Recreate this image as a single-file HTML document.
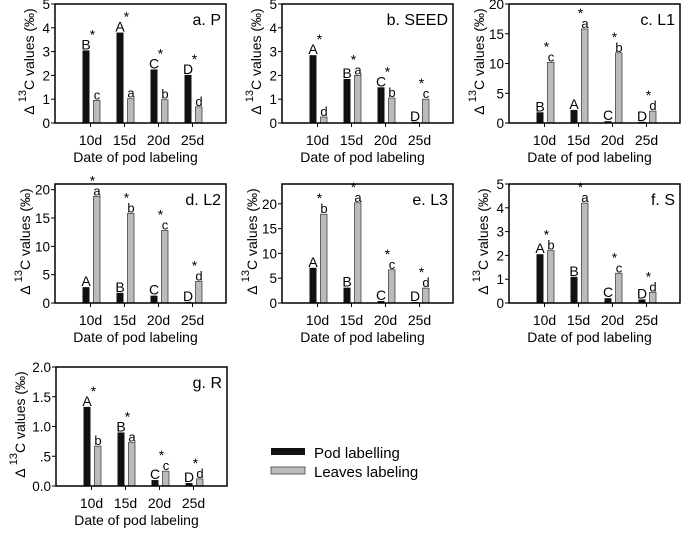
<!DOCTYPE html>
<html><head><meta charset="utf-8"><style>
body{margin:0;background:#fff;width:685px;height:530px;overflow:hidden}
svg{font-family:"Liberation Sans",sans-serif}
</style></head><body>
<svg id="fig" width="685" height="530"></svg>
<script>
const categories=["10d","15d","20d","25d"];
const podA=[3.05,3.8,2.25,2.02], leafA=[0.95,1.02,0.98,0.68];
const podB=[2.85,1.85,1.5,0.05], leafB=[0.25,2.0,1.05,1.0];
const podC=[1.8,2.2,0.3,0.2], leafC=[10.2,15.8,11.8,2.0];
const podD=[2.8,1.8,1.3,0.2], leafD=[18.8,15.8,12.8,3.8];
const podE=[7.1,3.1,0.4,0.2], leafE=[17.9,20.2,6.7,3.0];
const podF=[2.05,1.1,0.2,0.15], leafF=[2.2,4.2,1.25,0.45];
const podG=[1.33,0.9,0.1,0.05], leafG=[0.67,0.73,0.25,0.12];
const ticks05=["0","1","2","3","4","5"];
const ticks020=["0","5","10","15","20"];
const ticksG=["0.0",".5","1.0","1.5","2.0"];
const panels=[
 {id:"a",title:"a. P",x:55,y:4,max:5,tv:[0,1,2,3,4,5],tl:ticks05,pod:podA,leaf:leafA,pl:["B","A","C","D"],ll:["c","a","b","d"],yo:21},
 {id:"b",title:"b. SEED",x:282,y:4,max:5,tv:[0,1,2,3,4,5],tl:ticks05,pod:podB,leaf:leafB,pl:["A","B","C","D"],ll:["d","a","b","c"],yo:21},
 {id:"c",title:"c. L1",x:509,y:4,max:20,tv:[0,5,10,15,20],tl:ticks020,pod:podC,leaf:leafC,pl:["B","A","C","D"],ll:["c","a","b","d"],yo:25},
 {id:"d",title:"d. L2",x:55,y:184,max:21,tv:[0,5,10,15,20],tl:ticks020,pod:podD,leaf:leafD,pl:["A","B","C","D"],ll:["a","b","c","d"],yo:25},
 {id:"e",title:"e. L3",x:282,y:184,max:24,tv:[0,5,10,15,20],tl:ticks020,pod:podE,leaf:leafE,pl:["A","B","C","D"],ll:["b","a","c","d"],yo:25},
 {id:"f",title:"f. S",x:509,y:184,max:5,tv:[0,1,2,3,4,5],tl:ticks05,pod:podF,leaf:leafF,pl:["A","B","C","D"],ll:["b","a","c","d"],yo:21},
 {id:"g",title:"g. R",x:56,y:367,max:2,tv:[0,0.5,1,1.5,2],tl:ticksG,pod:podG,leaf:leafG,pl:["A","B","C","D"],ll:["b","a","c","d"],yo:31}
];
const NS="http://www.w3.org/2000/svg", svg=document.getElementById("fig");
function mk(t,a,p,txt){const e=document.createElementNS(NS,t);for(const k in a)e.setAttribute(k,a[k]);if(txt!==undefined)e.textContent=txt;(p||svg).appendChild(e);return e;}
const W=171,H=119;
panels.forEach(P=>{
 const g=mk("g",{});
 
 
 const ys=v=>P.y+H-v/P.max*H, xs=i=>P.x+35.5+34*i;
 P.tv.forEach((v,i)=>{
  const l=mk("line",{x1:P.x-4,x2:P.x,y1:ys(v),y2:ys(v),stroke:"#000"},g);
  
  
  const t=mk("text",{x:P.x-5,y:ys(v)+5,"text-anchor":"end","font-size":"13.5"},g,P.tl[i]);
  
  
 });
 categories.forEach((c,i)=>{
  const cx=xs(i);
  const hp=P.pod[i]/P.max*H, hl=P.leaf[i]/P.max*H;
  const b1=mk("rect",{x:cx-8,y:P.y+H-hp,width:7,height:hp,fill:"#111"},g);
  
  
  const b2=mk("rect",{x:cx+3,y:P.y+H-hl,width:6.5,height:hl,fill:"#bbb",stroke:"#444","stroke-width":"0.8"},g);
  
  
  const t1=mk("text",{x:cx-4.5,y:P.y+H-hp-1,"text-anchor":"middle","font-size":"14"},g,P.pl[i]);
  
  
  const t2=mk("text",{x:cx+6.5,y:P.y+H-hl-1,"text-anchor":"middle","font-size":"13"},g,P.ll[i]);
  
  
  const top=Math.max(hp,hl);
  const s=mk("text",{x:cx+2,y:P.y+H-top-11,"text-anchor":"middle","font-size":"14"},g,"*");
  
  
  const tk=mk("line",{x1:cx,x2:cx,y1:P.y+H,y2:P.y+H+4,stroke:"#000"},g);
  
  
  const xl=mk("text",{x:cx,y:P.y+H+22,"text-anchor":"middle","font-size":"14"},g,c);
  
  
 });
 const fr=mk("rect",{x:P.x,y:P.y,width:W,height:H,fill:"none",stroke:"#000","stroke-width":"1.5"},g);
 
 
 const ti=mk("text",{x:P.x+W-5,y:P.y+21,"text-anchor":"end","font-size":"16"},g,P.title);
 
 
 const xt=mk("text",{x:P.x+W/2-5,y:P.y+H+39,"text-anchor":"middle","font-size":"14"},g,"Date of pod labeling");
 
 
 const yt=mk("text",{transform:`translate(${P.x-P.yo},${P.y+H/2-2}) rotate(-90)`,"text-anchor":"middle","font-size":"14"},g);
 
 
 mk("tspan",{},yt,"Δ ");
 mk("tspan",{dy:"-8","font-size":"11"},yt,"13");
 mk("tspan",{dy:"8"},yt,"C values (‰)");
});
const lg=mk("g",{});


const r1=mk("rect",{x:271,y:448,width:34,height:7,fill:"#111"},lg);


const l1=mk("text",{x:314,y:458,"font-size":"15"},lg,"Pod labelling");


const r2=mk("rect",{x:271,y:467,width:34,height:7,fill:"#bbb",stroke:"#444","stroke-width":"0.8"},lg);


const l2=mk("text",{x:314,y:477,"font-size":"15"},lg,"Leaves labeling");


</script>
</body></html>
